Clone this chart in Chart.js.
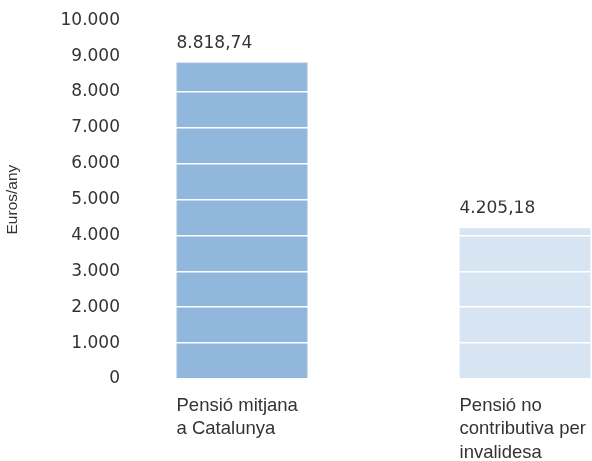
<!DOCTYPE html>
<html>
<head>
<meta charset="utf-8">
<script src="https://cdn.jsdelivr.net/npm/chart.js@4.4.1/dist/chart.umd.min.js"></script>
<style>
  html, body { margin: 0; padding: 0; background: #fff; }
  #wrap { width: 592px; height: 461px; }
</style>
</head>
<body>
<div id="wrap"><canvas id="myChart" width="592" height="461"></canvas></div>
<script>
'use strict';
// data
const categories = [
    ['Pensió mitjana', 'a Catalunya'],
    ['Pensió no', 'contributiva per', 'invalidesa'],
];
const values = [8818.74, 4205.18];
const valueLabels = ['8.818,74', '4.205,18'];
const barColors = ['#92b7dc', '#d7e5f3'];
const borderColors = ['#b3cce6', '#e4edf7'];
const positions = [1, 2];

function fmt(n) {
    return n.toLocaleString('de-DE');
}

// value text above each bar, left aligned with the bar
const valueLabelPlugin = {
    id: 'valueLabels',
    afterDatasetsDraw(chart) {
        const ctx = chart.ctx;
        const meta = chart.getDatasetMeta(0);
        ctx.save();
        ctx.font = '17px "DejaVu Sans"';
        ctx.fillStyle = '#333333';
        ctx.textAlign = 'left';
        ctx.textBaseline = 'alphabetic';
        meta.data.forEach(function (bar, i) {
            const left = bar.x - bar.width / 2;
            ctx.fillText(valueLabels[i], left, bar.y - 15);
        });
        ctx.restore();
    }
};

let points = [];
for (let i = 0; i < values.length; i++) {
    points.push({ x: positions[i], y: values[i] });
}

const context = document.getElementById('myChart').getContext('2d');
const chart = new Chart(context, {
    type: 'bar',
    data: {
        datasets: [{
            data: points,
            backgroundColor: barColors,
            borderColor: borderColors,
            borderWidth: 1,
            barThickness: 131,
        }]
    },
    options: {
        responsive: false,
        animation: false,
        layout: { padding: { top: 0, right: 0, left: 0, bottom: 0 } },
        plugins: {
            legend: { display: false },
            tooltip: { enabled: false },
        },
        scales: {
            x: {
                type: 'linear',
                min: 0.6042,
                max: 2.2367,
                offset: false,
                grid: { display: false, drawTicks: false },
                border: { display: false },
                afterBuildTicks(scale) {
                    // put the labels at the left edge of each bar
                    scale.ticks = positions.map(function (p) { return { value: p - 0.2314 }; });
                },
                afterFit(scale) {
                    scale.height = 82;
                    scale.paddingLeft = 0;
                    scale.paddingRight = 0;
                },
                ticks: {
                    align: 'start',
                    maxRotation: 0,
                    autoSkip: false,
                    padding: 15,
                    color: '#333333',
                    font: { family: '"Liberation Sans"', size: 18.5, lineHeight: 1.27 },
                    callback(value, index) {
                        return categories[index];
                    }
                }
            },
            y: {
                min: 0,
                max: 10000,
                grid: { color: '#ffffff', lineWidth: 1.5, drawTicks: false, z: 1 },
                border: { display: false },
                afterFit(scale) {
                    scale.width = 130;
                },
                ticks: {
                    stepSize: 1000,
                    padding: 10,
                    color: '#333333',
                    font: { family: '"DejaVu Sans"', size: 17 },
                    callback(value) { return fmt(value); }
                },
                title: {
                    display: true,
                    text: 'Euros/any',
                    color: '#333333',
                    padding: { top: 3, bottom: 4 },
                    font: { family: '"Liberation Sans"', size: 15.5 }
                }
            }
        }
    },
    plugins: [valueLabelPlugin]
});
</script>
</body>
</html>
